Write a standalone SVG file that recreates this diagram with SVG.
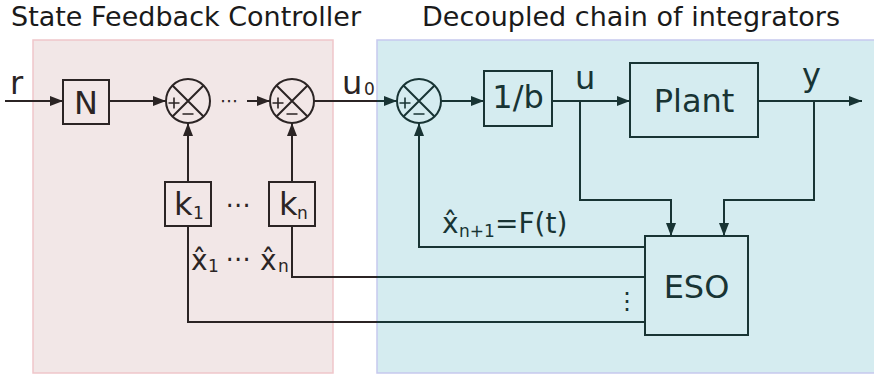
<svg xmlns="http://www.w3.org/2000/svg" width="874" height="375" viewBox="0 0 874 375">
<style>
text{font-family:"DejaVu Sans",Verdana,sans-serif}
.title{font-size:27px;fill:#1a1a1a}
.lbl{font-size:32px}
.xh{font-size:28px}
.sub{font-size:17px}
.L{fill:#2b2424}
.R{fill:#183434}
.bl{fill:none;stroke:#2b2424;stroke-width:2}
.br{fill:none;stroke:#183434;stroke-width:2}
.sg{fill:none;stroke-width:1.6}
.aL{marker-end:url(#ahL)}
.aR{marker-end:url(#ahR)}
</style>
<defs>
<marker id="ahL" markerUnits="userSpaceOnUse" markerWidth="14" markerHeight="11" refX="13" refY="5" orient="auto"><path d="M0,0 L13,5 L0,10 z" fill="#2b2424"/></marker>
<marker id="ahR" markerUnits="userSpaceOnUse" markerWidth="14" markerHeight="11" refX="13" refY="5" orient="auto"><path d="M0,0 L13,5 L0,10 z" fill="#183434"/></marker>
</defs>

<g id="panels">
<rect x="33" y="40" width="300" height="333" fill="#f2e7e7" stroke="#efc6ca" stroke-width="1.5"/>
<rect x="377" y="40" width="500" height="333" fill="#d5ecf0" stroke="#c6c9ee" stroke-width="1.5"/>
<text class="title" x="11" y="26">State Feedback Controller</text>
<text class="title" x="631" y="26" text-anchor="middle">Decoupled chain of integrators</text>
</g>

<g id="connectors">
<path class="bl aL" d="M5,101 H63"/>
<path class="bl aL" d="M109,101 H166"/>
<path class="bl aL" d="M247,101 H270"/>
<path class="bl" d="M314,101 H377"/>
<path class="br aR" d="M377,101 H397"/>
<path class="br aR" d="M441,101 H484"/>
<path class="br aR" d="M552,101 H630"/>
<path class="br aR" d="M758,101 H862"/>
<path class="br aR" d="M580,101 V200 H671 V236"/>
<path class="br aR" d="M814,101 V200 H724 V236"/>
<path class="br aR" d="M645,247 H419 V123"/>
<path class="br" d="M645,277 H377"/>
<path class="bl" d="M377,277 H292 V226"/>
<path class="br" d="M645,322 H377"/>
<path class="bl" d="M377,322 H188 V226"/>
<path class="bl aL" d="M188,182 V123"/>
<path class="bl aL" d="M292,182 V123"/>
</g>

<g id="r-label"><text class="lbl L" x="10" y="94">r</text></g>

<g id="N"><rect class="bl" x="63" y="80" width="46" height="44"/><text class="lbl L" x="86" y="114" text-anchor="middle">N</text></g>

<g id="sum1">
<circle class="bl" cx="188" cy="101" r="22"/>
<path class="bl" d="M172.5,85.5 L203.5,116.5 M203.5,85.5 L172.5,116.5"/>
<path class="sg" stroke="#2b2424" d="M168.5,103 H179.5 M174,97.5 V108.5 M182.5,114 H193.5"/>
</g>

<g id="dots-main"><text class="L" x="229" y="107" font-size="18" text-anchor="middle">⋯</text></g>

<g id="sum2">
<circle class="bl" cx="292" cy="101" r="22"/>
<path class="bl" d="M276.5,85.5 L307.5,116.5 M307.5,85.5 L276.5,116.5"/>
<path class="sg" stroke="#2b2424" d="M272.5,103 H283.5 M278,97.5 V108.5 M286.5,114 H297.5"/>
</g>

<g id="u0-label"><text class="lbl L" x="342" y="94">u<tspan class="sub" font-size="14" x="364" y="95">0</tspan></text></g>

<g id="sum3">
<circle class="br" cx="419" cy="101" r="22"/>
<path class="br" d="M403.5,85.5 L434.5,116.5 M434.5,85.5 L403.5,116.5"/>
<path class="sg" stroke="#183434" d="M399.5,103 H410.5 M405,97.5 V108.5 M413.5,114 H424.5"/>
</g>

<g id="inv-b"><rect class="br" x="484" y="71" width="68" height="55"/><text class="lbl R" x="518" y="108" text-anchor="middle">1/b</text></g>

<g id="u-label"><text class="lbl R" x="575" y="89">u</text></g>

<g id="plant"><rect class="br" x="630" y="63" width="128" height="74"/><text class="lbl R" x="694" y="112" text-anchor="middle">Plant</text></g>

<g id="y-label"><text class="lbl R" x="802" y="86">y</text></g>

<g id="k1"><rect class="bl" x="165" y="182" width="46" height="44"/><text class="lbl L" x="174" y="215">k<tspan class="sub" x="193" y="219">1</tspan></text></g>

<g id="dots-k"><text class="L" x="238" y="213" font-size="25" text-anchor="middle">⋯</text></g>

<g id="kn"><rect class="bl" x="269" y="182" width="46" height="44"/><text class="lbl L" x="279" y="215">k<tspan class="sub" x="297" y="219">n</tspan></text></g>

<g id="xhat-labels">
<text class="xh L" x="191" y="270">x̂<tspan class="sub" x="208" y="272">1</tspan></text>
<text class="L" x="238" y="267" font-size="25" text-anchor="middle">⋯</text>
<text class="xh L" x="260" y="270">x̂<tspan class="sub" x="278" y="272">n</tspan></text>
</g>

<g id="xhat-n1"><text class="xh R" x="442" y="233">x̂<tspan class="sub" x="459" y="237">n+1</tspan><tspan x="495" y="233">=F(t)</tspan></text></g>

<g id="ESO"><rect class="br" x="645" y="236" width="103" height="99"/><text class="lbl R" x="696.5" y="298" text-anchor="middle">ESO</text></g>

<g id="dots-v"><text class="R" x="627" y="309" font-size="24" text-anchor="middle">⋮</text></g>
</svg>
